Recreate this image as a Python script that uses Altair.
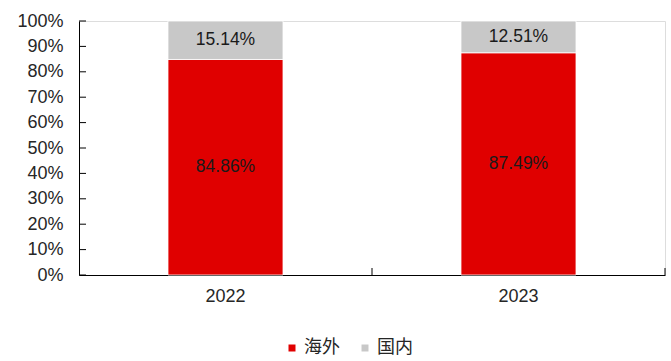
import altair as alt
import pandas as pd

years = ["2022", "2023"]
regions = ["海外", "国内"]
overseas = [0.8486, 0.8749]
domestic = [0.1514, 0.1251]
colors = ["#E00000", "#C8C8C8"]
y_ticks = [i / 10 for i in range(11)]

rows = []
for i, yr in enumerate(years):
    lo = 0.0
    for k, (reg, vals) in enumerate(zip(regions, [overseas, domestic])):
        v = vals[i]
        rows.append({"year": yr, "region": reg, "value": v, "order": k,
                     "y0": lo, "y1": lo + v, "mid": lo + v / 2})
        lo += v
df = pd.DataFrame(rows)
ticks_df = pd.DataFrame({"t": y_ticks})
xt_df = pd.DataFrame({"year": years})

FONT = "Liberation Sans, Arial, Noto Sans CJK SC"

xscale = alt.Scale(domain=years, paddingInner=0, paddingOuter=0)
yscale = alt.Scale(domain=[0, 1], nice=False)

xaxis = alt.Axis(title=None, labelAngle=0, ticks=False, domain=True,
                 domainColor="#000", labelFontSize=18, labelColor="#262626",
                 labelFont=FONT, labelPadding=12, grid=False)
yaxis = alt.Axis(title=None, format=".0%", values=y_ticks, ticks=False,
                 labelOverlap=False, tickCount=11,
                 domainColor="#000", labelFontSize=18, labelColor="#262626",
                 labelFont=FONT, labelPadding=16, grid=False)

bars = alt.Chart(df).mark_bar(width={"band": 0.3925}, stroke="white", strokeWidth=0.8).encode(
    x=alt.X("year:N", scale=xscale, sort=years, axis=xaxis),
    y=alt.Y("y0:Q", scale=yscale, axis=yaxis),
    y2="y1:Q",
    color=alt.Color("region:N", scale=alt.Scale(domain=regions, range=colors),
                    legend=alt.Legend(title=None, orient="none", direction="horizontal",
                                      legendX=204, legendY=318, symbolType="square",
                                      symbolSize=49, symbolStrokeWidth=0,
                                      labelFontSize=18, labelFont=FONT,
                                      labelColor="#262626", labelOffset=3,
                                      columnPadding=16)),
)

labels = alt.Chart(df).mark_text(fontSize=17.5, font=FONT, color="#1a1a1a").encode(
    x=alt.X("year:N", scale=xscale, sort=years, axis=xaxis),
    y=alt.Y("mid:Q", scale=yscale, axis=yaxis),
    text=alt.Text("value:Q", format=".2%"),
)

ytick_marks = alt.Chart(ticks_df).mark_rule(color="#000", strokeWidth=1).encode(
    y=alt.Y("t:Q", scale=yscale, axis=yaxis),
    x=alt.value(0),
    x2=alt.value(7),
)

xtick_marks = alt.Chart(xt_df).mark_rule(color="#000", strokeWidth=1).encode(
    x=alt.X("year:N", scale=xscale, sort=years, bandPosition=1, axis=xaxis),
    y=alt.value(254),
    y2=alt.value(247),
)

chart = alt.layer(bars, labels, ytick_marks, xtick_marks).properties(
    width=586, height=254,
    autosize=alt.AutoSizeParams(type="none"),
    padding={"left": 79, "top": 21, "right": 6, "bottom": 86},
).configure_view(stroke=None).configure(background="white")

chart.save("out.html", embed_options={"renderer": "svg", "actions": False})
